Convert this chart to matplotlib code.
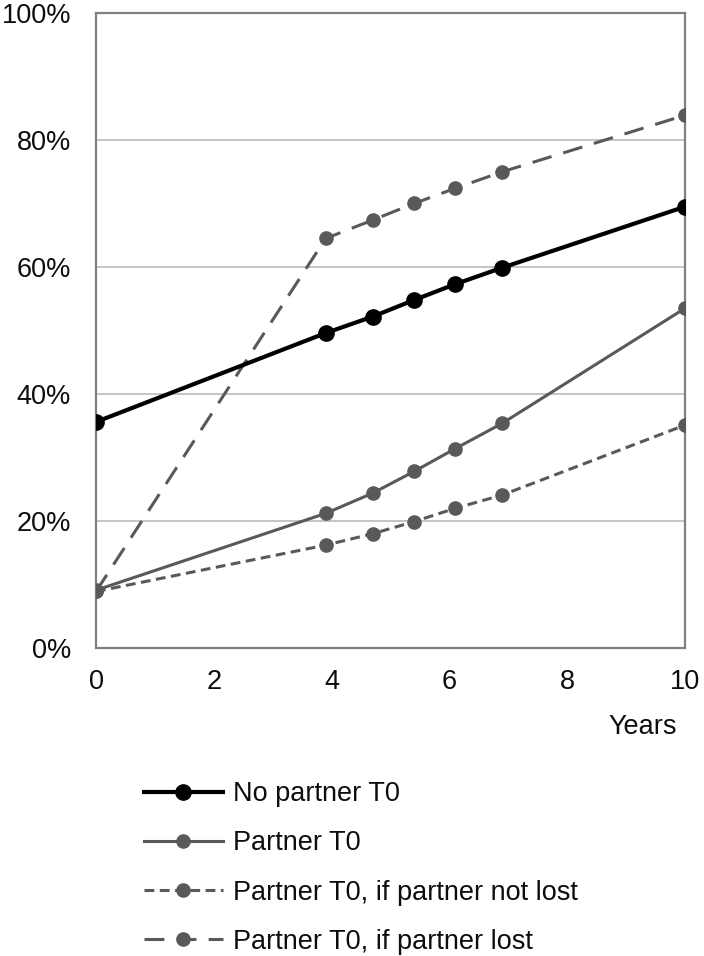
import matplotlib
matplotlib.use("Agg")
import matplotlib.pyplot as plt
from matplotlib.ticker import FuncFormatter

years = [0, 3.9, 4.7, 5.4, 6.1, 6.9, 10]
no_partner = [35.6, 49.6, 52.2, 54.8, 57.3, 59.9, 69.5]
partner = [9.1, 21.2, 24.4, 27.8, 31.4, 35.4, 53.5]
partner_not_lost = [8.9, 16.2, 18.0, 19.9, 22.0, 24.1, 35.1]
partner_lost = [8.9, 64.5, 67.4, 70.0, 72.4, 75.0, 83.9]
labels = ["No partner T0", "Partner T0", "Partner T0, if partner not lost", "Partner T0, if partner lost"]
xticks = [0, 2, 4, 6, 8, 10]
yticks = [0, 20, 40, 60, 80, 100]

plt.rcParams['font.family'] = ['Liberation Sans', 'DejaVu Sans']
txt = '#0d0d0d'
gray = '#595959'
fs = 19.5

fig = plt.figure(figsize=(7.04, 9.56), dpi=100)
ax = fig.add_axes([96/704, 1-648/956, (685-96)/704, (648-13)/956])

for y in yticks[1:-1]:
    ax.axhline(y, color='#bfbfbf', lw=1.3, zorder=1)

h1, = ax.plot(years, no_partner, color='black', lw=3.0, marker='o', ms=11, zorder=5, label=labels[0])
h2, = ax.plot(years, partner, color=gray, lw=2.2, marker='o', ms=9.5, zorder=4, label=labels[1])
h3, = ax.plot(years, partner_not_lost, color=gray, lw=2.2, marker='o', ms=9.5, zorder=4,
              dashes=(3.2, 1.8), label=labels[2])
h4, = ax.plot(years, partner_lost, color=gray, lw=2.2, marker='o', ms=9.5, zorder=3,
              dashes=(6.5, 4.0), label=labels[3])

ax.set_xlim(0, 10)
ax.set_ylim(0, 100)
ax.set_xticks(xticks)
ax.set_yticks(yticks)
ax.yaxis.set_major_formatter(FuncFormatter(lambda v, p: f"{int(v)}%"))
ax.tick_params(length=0, labelsize=fs, labelcolor=txt)
ax.tick_params(axis='y', pad=18)
ax.tick_params(axis='x', pad=15)
for s in ax.spines.values():
    s.set_color('#808080')
    s.set_linewidth(1.6)

fig.text(677/704, 1-727/956, "Years", ha='right', va='center', fontsize=fs, color=txt)

leg = fig.legend(handles=[h1, h2, h3, h4], loc='upper left', bbox_to_anchor=(144/704, 1-781/956),
                 frameon=False, fontsize=fs, handlelength=2.9, handletextpad=0.37,
                 labelspacing=0.86, labelcolor=txt, borderaxespad=0, borderpad=0)

fig.savefig("out.png", dpi=100)
